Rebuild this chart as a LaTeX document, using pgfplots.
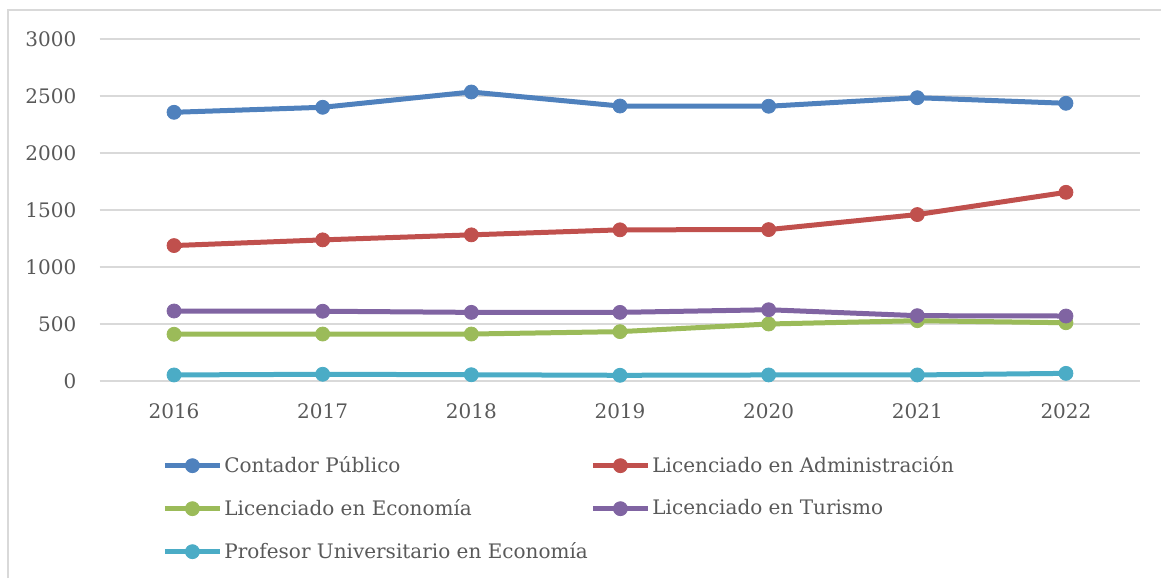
\documentclass[border=0pt]{standalone}
\usepackage{pgfplots}
\pgfplotsset{compat=1.18}
\usepackage{fontspec}
\setmainfont{DejaVu Serif}
\definecolor{cBlue}{HTML}{4F81BD}
\definecolor{cRed}{HTML}{C0504D}
\definecolor{cGreen}{HTML}{9BBB59}
\definecolor{cPurple}{HTML}{8064A2}
\definecolor{cCyan}{HTML}{4BACC6}
\definecolor{gridGray}{HTML}{D9D9D9}
\definecolor{frameGray}{HTML}{D9D9D9}
\definecolor{textGray}{HTML}{595959}
\newcommand{\lc}[1]{\makebox[183pt][l]{#1}}
\begin{document}
\begin{tikzpicture}[font=\fontsize{10}{12}\selectfont]
\path[use as bounding box] (0pt,0pt) rectangle (580.5pt,289pt);
\draw[color=frameGray, line width=1pt] (4pt,0pt) -- (4pt,284pt) -- (580.5pt,284pt);
\begin{axis}[
 at={(49.85pt,98.5pt)}, anchor=south west,
 scale only axis, width=520.3pt, height=171pt,
 xmin=-0.5, xmax=6.5, ymin=0, ymax=3000,
 xtick={0,1,2,3,4,5,6},
 xticklabels={2016,2017,2018,2019,2020,2021,2022},
 ytick={0,500,1000,1500,2000,2500,3000},
 yticklabels={0,500,1000,1500,2000,2500,3000},
 axis line style={draw=none}, major tick length=0pt,
 ymajorgrids, grid style={color=gridGray, line width=0.75pt},
 tick label style={text=textGray},
 xticklabel style={anchor=north, inner sep=0pt, yshift=-11pt},
 yticklabel style={anchor=east, inner sep=0pt, xshift=-11.5pt},
 clip=false,
 legend columns=2,
 legend cell align=left,
 legend style={at={(axis cs:-0.0809,-1120)}, anchor=west, draw=none, fill=none,
   inner sep=0pt, row sep=12pt, nodes={inner sep=0pt, text=textGray},
   /tikz/every odd column/.append style={column sep=1pt}},
 legend image code/.code={\draw[mark repeat=2,mark phase=2,#1] plot coordinates {(0pt,0pt) (13.75pt,0pt) (27.5pt,0pt)};},
 every axis plot/.append style={line width=2.5pt, mark=*, mark size=3.5pt, mark options={line width=0.4pt}},
]
\addplot[color=cBlue] coordinates {(0,2357) (1,2401) (2,2535) (3,2412) (4,2410) (5,2485) (6,2436)};
\addlegendentry{\lc{Contador Público}}
\addplot[color=cRed] coordinates {(0,1188) (1,1238) (2,1282) (3,1326) (4,1328) (5,1460) (6,1655)};
\addlegendentry{\lc{Licenciado en Administración}}
\addplot[color=cGreen] coordinates {(0,410) (1,412) (2,412) (3,433) (4,500) (5,529) (6,511)};
\addlegendentry{\lc{Licenciado en Economía}}
\addplot[color=cPurple] coordinates {(0,614) (1,612) (2,602) (3,602) (4,625) (5,573) (6,570)};
\addlegendentry{\lc{Licenciado en Turismo}}
\addplot[color=cCyan] coordinates {(0,53) (1,59) (2,55) (3,50) (4,53) (5,53) (6,67)};
\addlegendentry{\lc{Profesor Universitario en Economía}}
\end{axis}
\end{tikzpicture}
\end{document}
